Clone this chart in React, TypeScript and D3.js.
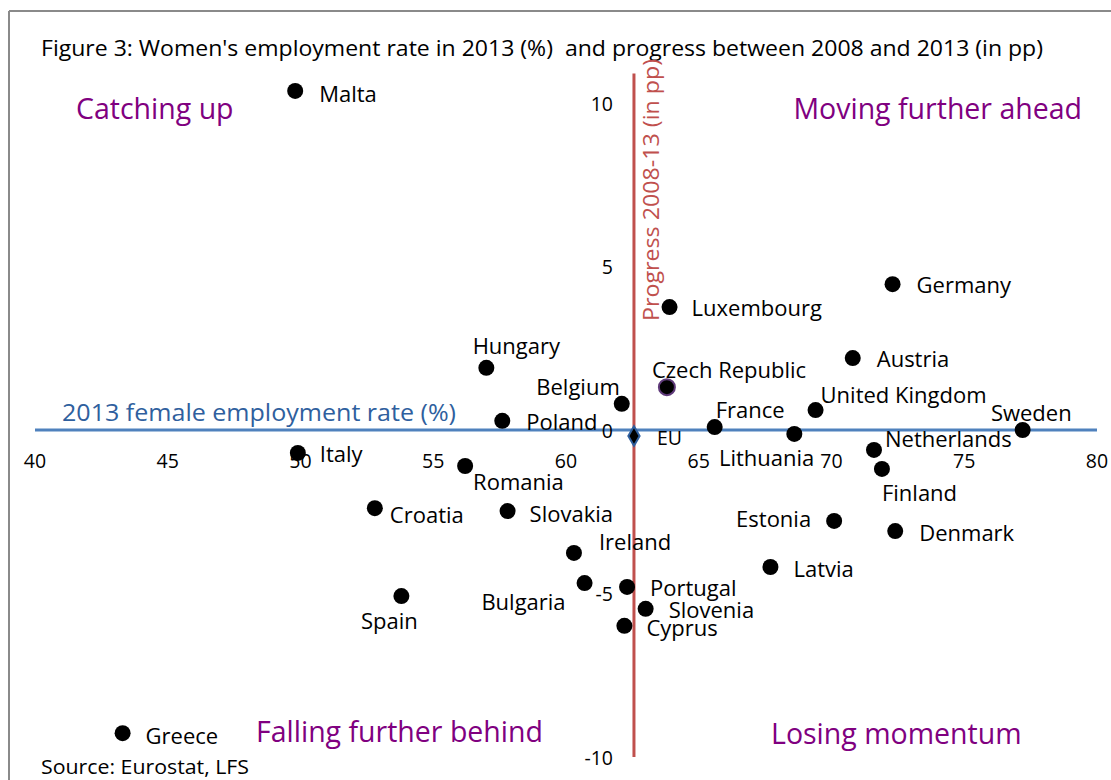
import React from "react";
import * as d3 from "d3";

const countries = ["Malta","Germany","Luxembourg","Hungary","Austria","Czech Republic","Belgium","Poland","United Kingdom","France","Sweden","Lithuania","Italy","Netherlands","Romania","Finland","Croatia","Slovakia","Estonia","Denmark","Ireland","Latvia","Bulgaria","Portugal","Spain","Slovenia","Cyprus","Greece"];
const employmentRate2013 = [49.8,72.3,63.9,57.0,70.8,63.8,62.1,57.6,69.4,65.6,77.2,68.6,49.9,71.6,56.2,71.9,52.8,57.8,70.1,72.4,60.3,67.7,60.7,62.3,53.8,63.0,62.2,43.3];
const progress2008_13 = [10.37,4.46,3.76,1.90,2.20,1.31,0.80,0.28,0.61,0.09,0.0,-0.12,-0.70,-0.61,-1.10,-1.19,-2.39,-2.48,-2.78,-3.09,-3.76,-4.19,-4.68,-4.80,-5.08,-5.47,-5.99,-9.27];
const euRate = 62.56;
const euProgress = -0.18;
const xTicks = [40,45,50,55,60,65,70,75,80];
const yTicks = [-10,-5,0,5,10];

// label placement (pixel offsets from each point, and anchor)
const labelPlacement: Record<string,[number,number,string]> = {
  "Malta":[24,2,"start"],"Germany":[24,0,"start"],"Luxembourg":[22,0,"start"],"Hungary":[30,-23,"middle"],
  "Austria":[24,0,"start"],"Czech Republic":[-15,-18,"start"],"Belgium":[-2,-18,"end"],"Poland":[24,0,"start"],
  "United Kingdom":[5,-16,"start"],"France":[1,-18,"start"],"Sweden":[49,-18,"end"],"Lithuania":[20,23,"end"],
  "Italy":[22,0,"start"],"Netherlands":[11,-12,"start"],"Romania":[8,15,"start"],"Finland":[0,23,"start"],
  "Croatia":[15,6,"start"],"Slovakia":[22,2,"start"],"Estonia":[-23,-3,"end"],"Denmark":[24,1,"start"],
  "Ireland":[25,-12,"start"],"Latvia":[23,1,"start"],"Bulgaria":[-19,18,"end"],"Portugal":[23,0,"start"],
  "Spain":[-12,24,"middle"],"Slovenia":[23,0,"start"],"Cyprus":[22,1,"start"],"Greece":[23,2,"start"]
};

const W = 1111, H = 780;
const FONT = "'Open Sans', sans-serif";
const LABEL_SIZE = 22;

export default function App() {
  const x = d3.scaleLinear().domain([40, 80]).range([35, 1097]);
  const y = d3.scaleLinear().domain([-10, 10]).range([757, 103]);
  const axisX = x(euRate);
  const data = countries.map((c, i) => ({ c, r: employmentRate2013[i], p: progress2008_13[i] }));
  const diamond = d3.symbol().type(d3.symbolDiamond).size(110)();
  return (
    <svg width={W} height={H} style={{ position: "absolute", left: 0, top: 0, background: "#fff" }} fontFamily={FONT}>
      <rect x={0} y={0} width={W} height={H} fill="#fff" />
      <line x1={9} y1={11} x2={W} y2={11} stroke="#8a8a8a" strokeWidth={2} />
      <line x1={9} y1={11} x2={9} y2={H} stroke="#8a8a8a" strokeWidth={2} />
      <text x={41} y={47} fontSize={22} fill="#000" dominantBaseline="central" style={{ whiteSpace: "pre" }} textLength={1002} lengthAdjust="spacingAndGlyphs">Figure 3: Women's employment rate in 2013 (%)  and progress between 2008 and 2013 (in pp)</text>

      {/* horizontal axis */}
      <line x1={x(40)} x2={x(80)} y1={y(0)} y2={y(0)} stroke="#4f81bd" strokeWidth={3} />
      {/* vertical axis */}
      <line x1={axisX} x2={axisX} y1={y(10.9)} y2={y(-10)} stroke="#c0504d" strokeWidth={3} />

      {xTicks.map(t => (
        <text key={"x" + t} x={x(t)} y={y(0) + 30} fontSize={19.5} textAnchor="middle" dominantBaseline="central" fill="#000">{t}</text>
      ))}
      {yTicks.map(t => (
        <text key={"y" + t} x={axisX - 21} y={y(t)} fontSize={19.5} textAnchor="end" dominantBaseline="central" fill="#000">{t}</text>
      ))}

      <text x={62} y={412} fontSize={23} fill="#2f5f9e" dominantBaseline="central" textLength={394} lengthAdjust="spacingAndGlyphs">2013 female employment rate (%)</text>
      <text transform={`translate(${axisX + 17},190) rotate(-90)`} fontSize={22.5} fill="#c0504d" textAnchor="middle" dominantBaseline="central" textLength={262} lengthAdjust="spacingAndGlyphs">Progress 2008-13 (in pp)</text>

      <text x={76} y={108} fontSize={28.5} fill="#800080" dominantBaseline="central">Catching up</text>
      <text x={1082} y={108} fontSize={28.5} fill="#800080" textAnchor="end" dominantBaseline="central">Moving further ahead</text>
      <text x={256} y={731} fontSize={28.5} fill="#800080" dominantBaseline="central">Falling further behind</text>
      <text x={771} y={733} fontSize={28.5} fill="#800080" dominantBaseline="central">Losing momentum</text>

      {data.map(d => (
        <circle key={d.c} cx={x(d.r)} cy={y(d.p)} r={8}
          fill="#000" stroke={d.c === "Czech Republic" ? "#5f3a7a" : "none"} strokeWidth={d.c === "Czech Republic" ? 2 : 0} />
      ))}
      {data.map(d => {
        const [dx, dy, anchor] = labelPlacement[d.c];
        return (
          <text key={"l" + d.c} x={x(d.r) + dx} y={y(d.p) + dy} fontSize={LABEL_SIZE} fill="#000" textAnchor={anchor} dominantBaseline="central">{d.c}</text>
        );
      })}

      <path d={diamond} transform={`translate(${x(euRate)},${y(euProgress)})`} fill="#000" stroke="#2f5f9e" strokeWidth={2} />
      <text x={x(euRate) + 23} y={y(euProgress) + 2} fontSize={19.5} fill="#000" dominantBaseline="central">EU</text>

      <text x={41} y={766} fontSize={19.5} fill="#000" dominantBaseline="central" textLength={208} lengthAdjust="spacingAndGlyphs">Source: Eurostat, LFS</text>
    </svg>
  );
}
